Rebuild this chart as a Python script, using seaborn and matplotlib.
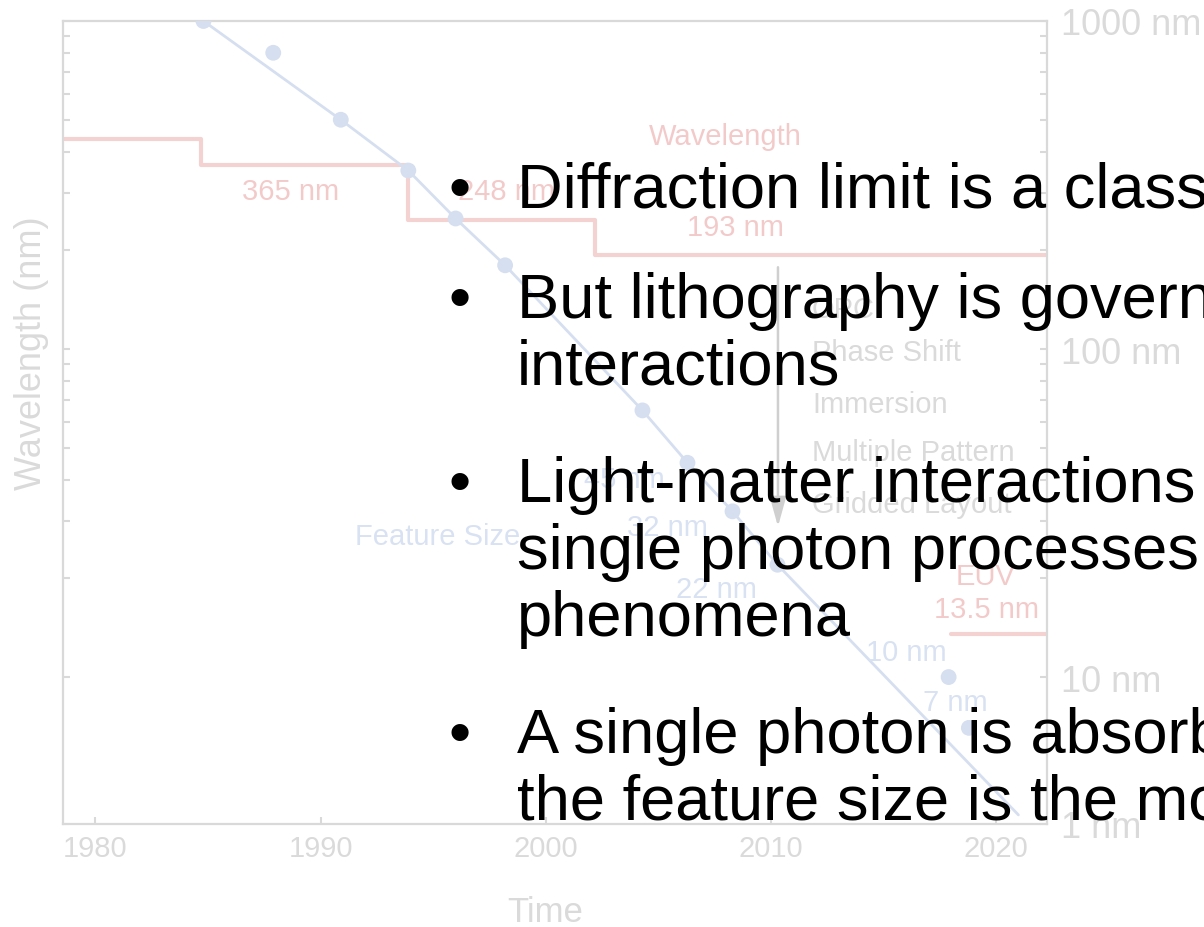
import matplotlib
matplotlib.use("Agg")
import matplotlib.pyplot as plt
from matplotlib.ticker import FixedLocator, NullFormatter
import seaborn as sns

# lithography wavelength (nm), step changes by year
wl_years = [1978.0, 1984.7, 1993.9, 2002.2, 2023.0]
wl_nm = [436, 365, 248, 193, 193]
euv_years = [2018.0, 2023.0]
euv_nm = [13.5, 13.5]

# feature size trend line
trend_years = [1984.8, 1990.9, 1993.9, 1996.0, 1998.2, 2004.3, 2006.3, 2008.3, 2010.3, 2021.0]
trend_nm = [1000, 500, 350, 250, 180, 65, 45, 32, 22, 3.8]

# node dots
node_years = [1984.8, 1987.9, 1990.9, 1993.9, 1996.0, 1998.2, 2004.3, 2006.3, 2008.3, 2010.3, 2017.9, 2018.8]
node_nm = [1000, 800, 500, 350, 250, 180, 65, 45, 32, 22, 10, 7]

x_ticks = [1980, 1990, 2000, 2010, 2020]
y_ticks = [1000, 100, 10, 3.565]
y_ticklabels = ["1000 nm", "100 nm", "10 nm", "1 nm"]
y_minor = [20, 30, 40, 50, 60, 70, 80, 90, 200, 300, 400, 500, 600, 700, 800, 900]

wl_labels = ["Wavelength", "365 nm", "248 nm", "193 nm", "EUV", "13.5 nm"]
fs_labels = ["Feature Size", "45 nm", "32 nm", "22 nm", "10 nm", "7 nm"]
tech_labels = ["OPC", "Phase Shift", "Immersion", "Multiple Pattern", "Gridded Layout"]

bullets = [
    ["Diffraction limit is a classical"],
    ["But lithography is governed", "interactions"],
    ["Light-matter interactions", "single photon processes", "phenomena"],
    ["A single photon is absorbed", "the feature size is the most"],
]

RED = "#f5d2d2"
RED_TXT = "#f3caca"
BLUE = "#d6dff0"
BLUE_TXT = "#d9e2f2"
GRAY = "#d9d9d9"
GRAY_TXT = "#dadada"

sns.set_style("white")
plt.rcParams["font.family"] = ["Liberation Sans", "DejaVu Sans"]

fig = plt.figure(figsize=(12.04, 9.28), dpi=100)
ax = fig.add_axes([0.0523, 0.111, 0.8173, 0.8653])
ax.set_yscale("log")

sns.lineplot(x=wl_years, y=wl_nm, ax=ax, color=RED, lw=3, drawstyle="steps-post",
             estimator=None, sort=False)
sns.lineplot(x=euv_years, y=euv_nm, ax=ax, color=RED, lw=3, estimator=None, sort=False)
sns.lineplot(x=trend_years, y=trend_nm, ax=ax, color=BLUE, lw=2.0, estimator=None, sort=False)
sns.scatterplot(x=node_years, y=node_nm, ax=ax, color=BLUE, s=130, edgecolor="none", zorder=3)

ax.set_xlim(1978.56, 2022.27)
ax.set_ylim(3.565, 1000)

# text annotations (year, nm)
wl_pos = [(2007.97, 446), (1988.69, 303), (1998.28, 303), (2008.41, 235), (2019.52, 20.3), (2019.6, 16.1)]
for t, (xx, yy) in zip(wl_labels, wl_pos):
    ax.text(xx, yy, t, color=RED_TXT, fontsize=21, ha="center", va="center")
fs_pos = [(1995.2, 26.9), (2003.5, 40.2), (2005.4, 28.6), (2007.6, 18.5), (2016.0, 11.9), (2018.2, 8.4)]
for t, (xx, yy) in zip(fs_labels, fs_pos):
    ax.text(xx, yy, t, color=BLUE_TXT, fontsize=21, ha="center", va="center")
tech_y = [132, 98, 67.9, 48.5, 33.6]
for t, yy in zip(tech_labels, tech_y):
    ax.text(2011.83, yy, t, color=GRAY_TXT, fontsize=21, ha="left", va="center")
ax.annotate("", xy=(2010.32, 28.2), xytext=(2010.32, 181),
            arrowprops=dict(arrowstyle="-|>,head_width=0.5,head_length=1.8",
                            color="#cfcfcf", lw=1.8))

for side in ["left", "right", "top", "bottom"]:
    ax.spines[side].set_visible(True)
    ax.spines[side].set_color(GRAY)
    ax.spines[side].set_linewidth(1.6)

ax.set_xticks(x_ticks)
ax.set_xticklabels([str(v) for v in x_ticks])
ax.set_yticks(y_ticks)
ax.set_yticklabels(y_ticklabels)
ax.yaxis.set_minor_locator(FixedLocator(y_minor))
ax.yaxis.set_minor_formatter(NullFormatter())
ax.tick_params(axis="x", which="major", direction="in", length=5, width=1.5, color=GRAY,
               labelcolor=GRAY_TXT, labelsize=21, pad=7, bottom=True, top=False)
ax.tick_params(axis="y", which="both", direction="in", length=5, width=1.5, color=GRAY,
               labelcolor=GRAY_TXT, labelsize=26, pad=10, left=True, right=True,
               labelleft=False, labelright=True)
ax.set_xlabel("Time", color=GRAY_TXT, fontsize=25)
ax.xaxis.set_label_coords(0.49, -0.088)
ax.set_ylabel("Wavelength (nm)", color=GRAY_TXT, fontsize=26)
ax.yaxis.set_label_position("left")
ax.yaxis.set_label_coords(-0.014, 0.587)

# slide bullet text on top
baselines = [[208], [318, 385], [502, 569, 636], [753, 820]]
H = 928.0
for lines, ys in zip(bullets, baselines):
    fig.text(449 / 1204, 1 - ys[0] / H, "\u2022", fontsize=45.5, color="black", va="baseline", ha="left")
    for line, yb in zip(lines, ys):
        fig.text(517 / 1204, 1 - yb / H, line, fontsize=45.5, color="black", va="baseline", ha="left")

fig.savefig("out.png", dpi=100)
